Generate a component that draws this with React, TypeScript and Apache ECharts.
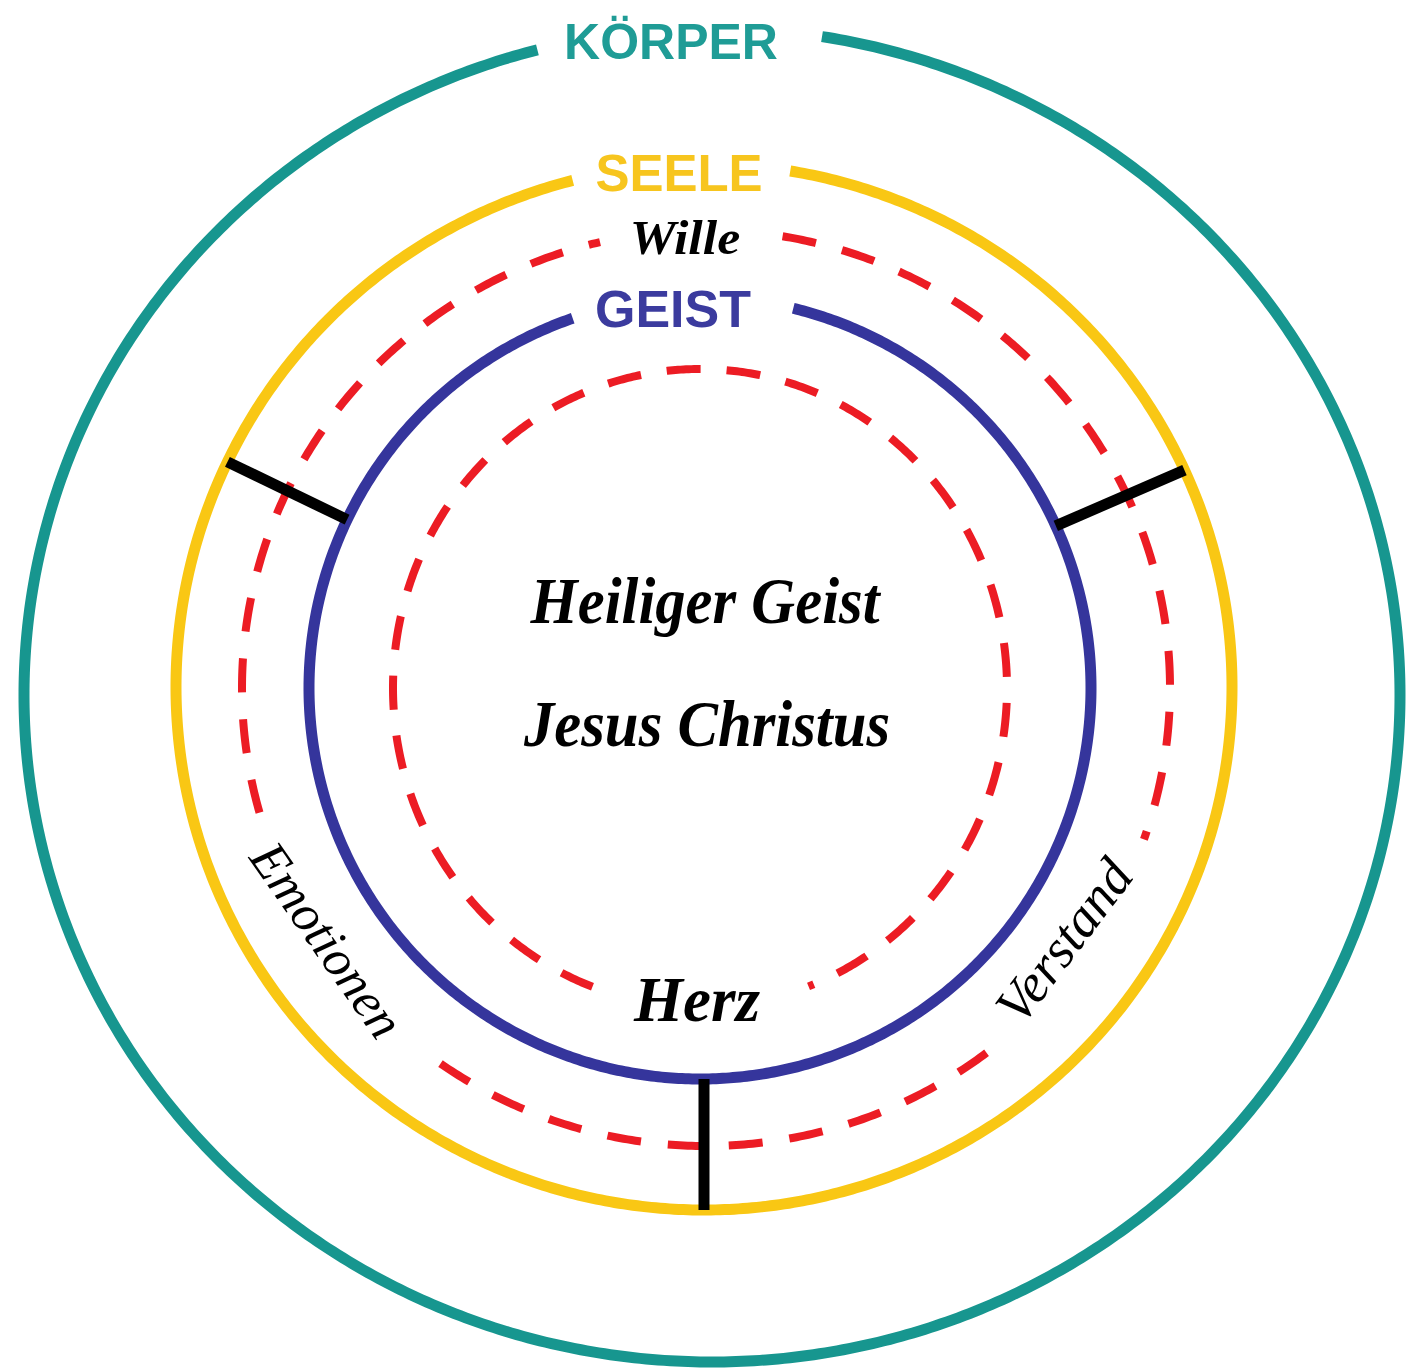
import React, { useEffect, useRef } from "react";
import * as echarts from "echarts";

// ---- content ----
const ringLabels = ["KÖRPER", "SEELE", "GEIST"];
const ringLabelColors = ["#1f9c96", "#f7c51e", "#3b3b9e"];
const centerLabels = ["Heiliger Geist", "Jesus Christus"];
const soulParts = ["Wille", "Emotionen", "Verstand"];
const heartLabel = ["Herz"];

// ---- layout (geometry of the diagram) ----
// rings: centre, radii, stroke, visible arcs (degrees clockwise from top)
const ringGeom = [
  { cx: 712, cy: 695, rx: 688, ry: 667, color: "#17968f", w: 11, dash: null, arcs: [[9.2, 345.3]] },
  { cx: 704, cy: 687, rx: 528, ry: 523, color: "#f9c714", w: 11, dash: null, arcs: [[9.4, 345.6]] },
  { cx: 706, cy: 688, rx: 464, ry: 458, color: "#ec1c24", w: 8, dash: [34, 27], arcs: [[9.5, 109.3], [142.8, 217.2], [254.2, 346.8]] },
  { cx: 700, cy: 688, rx: 391, ry: 391, color: "#35359c", w: 11, dash: null, arcs: [[13.8, 341]] },
  { cx: 700, cy: 688, rx: 307, ry: 319, color: "#ec1c24", w: 8, dash: [34, 26], arcs: [[200.5, 519.3]] },
];
const dividerAngles = [65.5, 180, 295.5];

function pt(g: any, deg: number) {
  const t = (deg * Math.PI) / 180;
  return [g.cx + g.rx * Math.sin(t), g.cy - g.ry * Math.cos(t)];
}

function arcPoints(g: any, a0: number, a1: number) {
  const pts: number[][] = [];
  const n = Math.max(2, Math.ceil((a1 - a0) / 0.5));
  for (let i = 0; i <= n; i++) pts.push(pt(g, a0 + ((a1 - a0) * i) / n));
  return pts;
}

function txt(text: string, x: number, y: number, size: number, color: string, family: string, weight: string, style: string, rot = 0, sx = 1) {
  return {
    type: "text",
    x,
    y,
    rotation: (rot * Math.PI) / 180,
    scaleX: sx,
    scaleY: 1,
    z: 10,
    style: {
      text,
      fill: color,
      fontSize: size,
      fontFamily: family,
      fontWeight: weight,
      fontStyle: style,
      align: "center",
      verticalAlign: "middle",
      textAlign: "center",
      textVerticalAlign: "middle",
    },
  };
}

export default function App() {
  const ref = useRef<HTMLDivElement>(null);
  useEffect(() => {
    if (!ref.current) return;
    const chart = echarts.init(ref.current, null, { renderer: "svg" });
    const elements: any[] = [];
    ringGeom.forEach((g) => {
      g.arcs.forEach(([a0, a1]) => {
        elements.push({
          type: "polyline",
          z: 1,
          shape: { points: arcPoints(g, a0, a1) },
          style: {
            stroke: g.color,
            lineWidth: g.w,
            lineDash: g.dash || undefined,
            lineCap: "butt",
            lineJoin: "round",
          },
        });
      });
    });
    const inner = ringGeom[3];
    const outer = ringGeom[1];
    dividerAngles.forEach((a) => {
      const p1 = pt(inner, a);
      const p2 = pt(outer, a);
      if (a === 180) p1[0] = p2[0];
      elements.push({
        type: "line",
        z: 5,
        shape: { x1: p1[0], y1: p1[1], x2: p2[0], y2: p2[1] },
        style: { stroke: "#000", lineWidth: 11, lineCap: "butt" },
      });
    });
    const sans = "'Liberation Sans', Arial, sans-serif";
    const serif = "'Liberation Serif', 'Times New Roman', serif";
    elements.push(txt(ringLabels[0], 671, 42, 50, ringLabelColors[0], sans, "bold", "normal"));
    elements.push(txt(ringLabels[1], 679, 173, 51, ringLabelColors[1], sans, "bold", "normal"));
    elements.push(txt(ringLabels[2], 673, 309, 52, ringLabelColors[2], sans, "bold", "normal"));
    elements.push(txt(soulParts[0], 685, 238, 48, "#000", serif, "bold", "italic", 0, 1.08));
    elements.push(txt(centerLabels[0], 705, 601, 66, "#000", serif, "bold", "italic", 0, 0.92));
    elements.push(txt(centerLabels[1], 707, 724, 66, "#000", serif, "bold", "italic", 0, 0.92));
    elements.push(txt(heartLabel[0], 697, 1000, 63, "#000", serif, "bold", "italic"));
    elements.push(txt(soulParts[1], 327, 940, 52, "#000", serif, "normal", "italic", -55));
    elements.push(txt(soulParts[2], 1064, 941, 54, "#000", serif, "normal", "italic", 53));

    chart.setOption({
      animation: false,
      backgroundColor: "#ffffff",
      graphic: { elements },
    });
    return () => chart.dispose();
  }, []);
  return (
    <div
      ref={ref}
      style={{ position: "fixed", left: 0, top: 0, width: 1409, height: 1369, background: "#fff" }}
    />
  );
}
